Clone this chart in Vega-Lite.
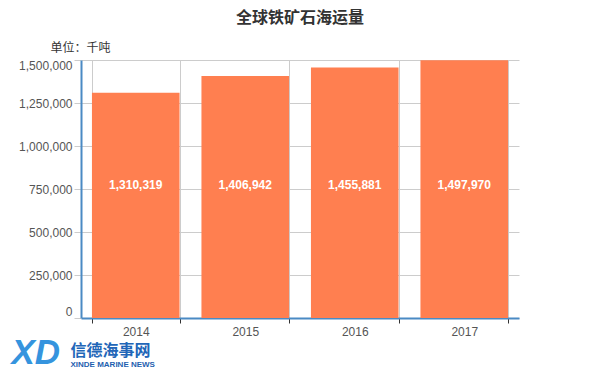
{
  "$schema": "https://vega.github.io/schema/vega-lite/v6.json",
  "width": 438,
  "height": 258,
  "autosize": {"type": "none"},
  "padding": {"left": 81, "top": 60, "right": 80, "bottom": 60},
  "background": "white",
  "config": {
    "font": "'Liberation Sans', 'Noto Sans CJK SC', sans-serif",
    "view": {"stroke": null}
  },
  "title": {
    "text": "全球铁矿石海运量",
    "font": "'Noto Sans CJK SC', sans-serif",
    "fontSize": 16,
    "fontWeight": "bold",
    "color": "#333333",
    "anchor": "middle",
    "frame": "group",
    "offset": 15
  },
  "data": {
    "values": [
      {"year": "2014", "volume": 1310319},
      {"year": "2015", "volume": 1406942},
      {"year": "2016", "volume": 1455881},
      {"year": "2017", "volume": 1497970}
    ]
  },
  "resolve": {"axis": {"x": "independent", "y": "independent"}},
  "layer": [
    {
      "mark": {"type": "bar", "color": "#FF7F50"},
      "encoding": {
        "x": {
          "field": "year",
          "type": "ordinal",
          "scale": {"paddingInner": 0.2, "paddingOuter": 0.1},
          "axis": {
            "orient": "bottom",
            "title": "信德海事网",
            "titleFont": "'Noto Sans CJK SC', sans-serif",
            "titleColor": "#2266B8",
            "titleFontSize": 16,
            "titleFontWeight": "bold",
            "titleAnchor": "start",
            "titleAlign": "left",
            "titleBaseline": "alphabetic",
            "titleX": -11,
            "titleY": 37,
            "labelAngle": 0,
            "labelColor": "#555555",
            "labelFontSize": 12,
            "labelPadding": 3,
            "tickBand": "extent",
            "tickColor": "#333333",
            "tickSize": 5,
            "domainColor": "#4A8AC4",
            "domainWidth": 2,
            "grid": true,
            "gridColor": "#CCCCCC",
            "gridWidth": 1
          }
        },
        "y": {
          "field": "volume",
          "type": "quantitative",
          "scale": {"domain": [0, 1500000], "nice": false},
          "axis": {
            "orient": "left",
            "values": [0, 250000, 500000, 750000, 1000000, 1250000, 1500000],
            "format": ",d",
            "labelFlush": true,
            "labelColor": "#555555",
            "labelFontSize": 12,
            "labelPadding": 2,
            "tickColor": "#CCCCCC",
            "tickSize": 7,
            "domainColor": "#4A8AC4",
            "domainWidth": 2,
            "gridColor": "#CCCCCC",
            "gridWidth": 1,
            "title": "单位：千吨",
            "titleFont": "'Noto Sans CJK SC', sans-serif",
            "titleAngle": 0,
            "titleAlign": "left",
            "titleBaseline": "alphabetic",
            "titleFontSize": 12,
            "titleFontWeight": "normal",
            "titleColor": "#333333",
            "titleX": -31,
            "titleY": -9
          }
        }
      }
    },
    {
      "mark": {"type": "text", "color": "white", "fontSize": 12, "fontWeight": "bold", "baseline": "middle"},
      "encoding": {
        "x": {
          "field": "year",
          "type": "ordinal",
          "axis": {
            "orient": "top",
            "labels": false,
            "ticks": false,
            "domain": false,
            "grid": false,
            "title": "XINDE MARINE NEWS",
            "titleColor": "#1F5FAF",
            "titleFontSize": 8,
            "titleFontWeight": "bold",
            "titleAnchor": "start",
            "titleAlign": "left",
            "titleBaseline": "alphabetic",
            "titleX": -11,
            "titleY": 306
          }
        },
        "y": {
          "datum": 775000,
          "axis": {
            "orient": "right",
            "labels": false,
            "ticks": false,
            "domain": false,
            "grid": false,
            "title": "XD",
            "titleColor": "#3594DE",
            "titleFontSize": 35,
            "titleFontWeight": "bold",
            "titleFontStyle": "italic",
            "titleAngle": 0,
            "titleAlign": "left",
            "titleBaseline": "alphabetic",
            "titleX": -508,
            "titleY": 303
          }
        },
        "text": {"field": "volume", "type": "quantitative", "format": ",d"}
      }
    }
  ]
}
